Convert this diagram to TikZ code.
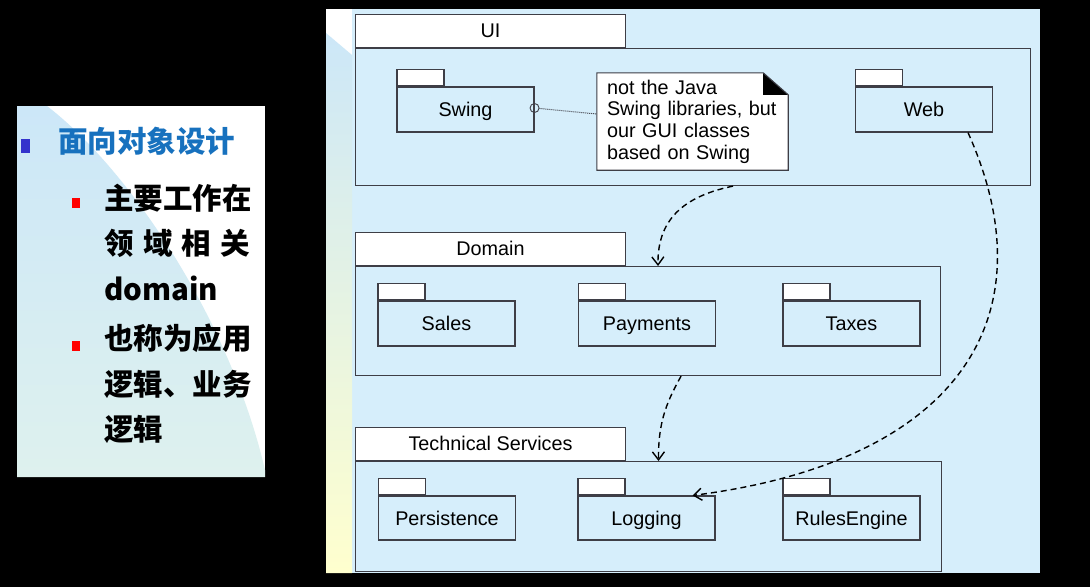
\documentclass[tikz,border=0pt]{standalone}
\usepackage{fontspec}
\setmainfont{Liberation Sans}
\newfontfamily\cjk{Noto Sans CJK SC}
\usetikzlibrary{arrows.meta}

\definecolor{diagbg}{RGB}{214,238,251}
\definecolor{slideblue}{RGB}{204,231,248}
\definecolor{slidegreen}{RGB}{222,241,238}
\definecolor{slideyellow}{RGB}{255,255,206}
\definecolor{titleblue}{RGB}{23,113,190}
\definecolor{bulletblue}{RGB}{51,51,204}
\definecolor{umlline}{RGB}{62,62,70}

\tikzset{
  pkg/.style={draw=umlline, line width=1.1pt, fill=diagbg, minimum width=137pt,
    minimum height=45pt, inner sep=0pt, text height=18pt, text depth=4pt,
    font=\fontsize{19.8}{22}\selectfont},
  pkgtab/.style={draw=umlline, line width=1.1pt, fill=white, minimum width=47pt,
    minimum height=16pt, inner sep=0pt, anchor=south west},
  layer/.style={draw=umlline, line width=1.1pt, fill=diagbg, inner sep=0pt, anchor=north west},
  layertab/.style={draw=umlline, line width=1.1pt, fill=white, minimum width=270pt,
    minimum height=33pt, inner sep=0pt, anchor=south west, text height=18pt, text depth=4pt,
    font=\fontsize{19.8}{22}\selectfont},
  notebox/.style={fill=white, minimum width=191pt, minimum height=97pt, text width=171pt,
    inner xsep=10pt, inner ysep=0pt, align=left, font=\fontsize{19.8}{21.7}\selectfont},
  dep/.style={line width=1.4pt, dash pattern=on 6pt off 4pt,
    -{Straight Barb[length=8pt,width=12pt]}},
  item/.style={anchor=base west, align=left, inner sep=0pt,
    font=\cjk\bfseries\fontsize{29.5}{45.5}\selectfont},
}

\begin{document}
\begin{tikzpicture}[x=1pt,y=-1pt]

\fill[black] (0,0) rectangle (1090,587);

\fill[white] (17,106) rectangle (265,477);
\shade[top color=slideblue, bottom color=slidegreen] (17,106) -- (47,106)
  .. controls (130,170) and (230,320) .. (265,470) -- (265,477) -- (17,477) -- cycle;

\fill[diagbg] (326,9) rectangle (1040,573);
\fill[white] (326,9) rectangle (352,55);
\shade[top color=slideblue, middle color=slidegreen, bottom color=slideyellow]
  (326,33) -- (352,55) -- (352,573) -- (326,573) -- cycle;

\node[fill=bulletblue, minimum width=9pt, minimum height=14pt, inner sep=0pt] (bullet-top) at (25.5,146) {};
\node[anchor=base west, inner sep=0pt, text=titleblue, font=\cjk\bfseries\fontsize{29.5}{34}\selectfont] (title) at (58,152.5) {面向对象设计};

\node[fill=red, minimum width=8pt, minimum height=10pt, inner sep=0pt] (bullet-work) at (76,203) {};
\node[item] (work) at (104,300) {主要工作在\\\makebox[146pt][s]{领\hfill 域\hfill 相\hfill 关}\\domain};

\node[fill=red, minimum width=8pt, minimum height=10pt, inner sep=0pt] (bullet-alias) at (76,345.5) {};
\node[item] (alias) at (104,440.5) {也称为应用\\逻辑、业务\\逻辑};

\node[layer, minimum width=675pt, minimum height=137pt] (UI) at (355,48) {};
\node[layertab] (UI-tab) at (UI.north west) {UI};

\node[layer, minimum width=585pt, minimum height=109pt] (Domain) at (355,266) {};
\node[layertab] (Domain-tab) at (Domain.north west) {Domain};

\node[layer, minimum width=586pt, minimum height=110pt] (Tech) at (355,461) {};
\node[layertab] (Tech-tab) at (Tech.north west) {Technical Services};

\node[pkg] (swing) at (465.5,109.5) {Swing};
\node[pkgtab] at (swing.north west) {};
\node[pkg] (web) at (924,109.5) {Web};
\node[pkgtab] at (web.north west) {};

\node[pkg] (sales) at (446.5,323.5) {Sales};
\node[pkgtab] at (sales.north west) {};
\node[pkg] (payments) at (647,323.5) {Payments};
\node[pkgtab] at (payments.north west) {};
\node[pkg] (taxes) at (851.5,323.5) {Taxes};
\node[pkgtab] at (taxes.north west) {};

\node[pkg, minimum height=44pt] (persistence) at (447,518) {Persistence};
\node[pkgtab] at (persistence.north west) {};
\node[pkg, minimum height=44pt] (logging) at (646.5,518) {Logging};
\node[pkgtab] at (logging.north west) {};
\node[pkg, minimum height=44pt] (rules) at (851.5,518) {RulesEngine};
\node[pkgtab] at (rules.north west) {};

\node[notebox] (note) at (692.5,121.5) {not the Java\\Swing libraries, but\\our GUI classes\\based on Swing};
\fill[diagbg] ([xshift=-25pt]note.north east) -- (note.north east) -- ([yshift=-22pt]note.north east) -- cycle;
\fill[black] ([xshift=-25pt]note.north east) -- ([xshift=-25pt,yshift=-22pt]note.north east) -- ([yshift=-22pt]note.north east) -- cycle;
\draw[umlline, line width=1.1pt] (note.north west) -- ([xshift=-25pt]note.north east)
  -- ([yshift=-22pt]note.north east) -- (note.south east) -- (note.south west) -- cycle;

\node[circle, draw=umlline, line width=0.9pt, minimum size=9pt, inner sep=0pt] (swing-end) at ([yshift=1.5pt]swing.east) {};
\draw[umlline, line width=1pt, dash pattern=on 1pt off 1pt] (swing-end) -- ([yshift=7.5pt]note.west);

\draw[dep] ([xshift=40pt]UI.south) .. controls (690,195) and (657,215) .. ([xshift=10pt]Domain.north);
\draw[dep] ([xshift=33pt]Domain.south) .. controls (668,400) and (658,420) .. ([xshift=10pt]Tech.north);
\draw[dep] ([xshift=44pt]web.south) .. controls (1052,320) and (955,462) .. ([xshift=-23pt]logging.north east);

\end{tikzpicture}
\end{document}
